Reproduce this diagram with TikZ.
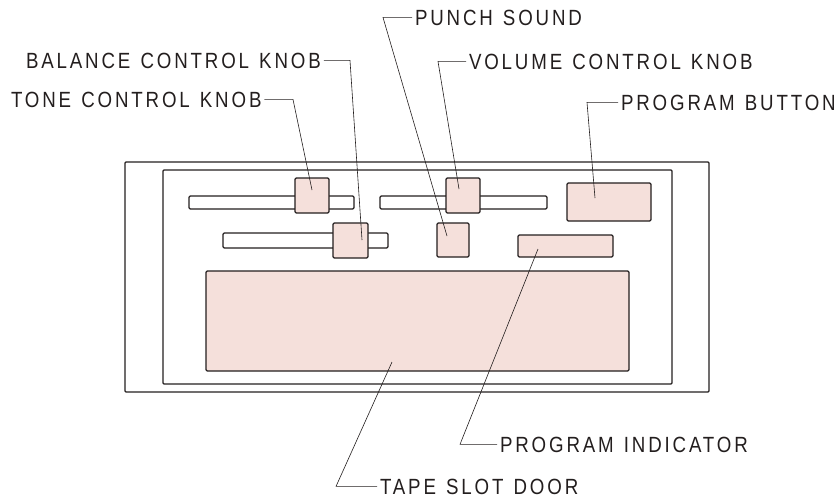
\documentclass[tikz,border=0pt]{standalone}
\usepackage{fontspec}
\newfontfamily\lblfont[FakeStretch=0.85,LetterSpace=13,WordSpace=1.25]{Liberation Sans}
\definecolor{ink}{RGB}{35,30,30}
\definecolor{pinkfill}{RGB}{245,224,219}
\begin{document}
\begin{tikzpicture}[x=1pt,y=-1pt,
  frame/.style={draw=ink,line width=1.3pt,rounded corners=1pt},
  slider/.style={draw=ink,line width=1.3pt,fill=white,rounded corners=1.2pt,inner sep=0pt,outer sep=0pt},
  knob/.style={draw=ink,line width=1.3pt,fill=pinkfill,rounded corners=1.2pt,inner sep=0pt,outer sep=0pt},
  lbl/.style={font=\lblfont\fontsize{22}{26}\selectfont,text=ink,inner sep=0pt,outer sep=3pt},
  leader/.style={draw=ink,line width=0.6pt}]
\useasboundingbox (0,0) rectangle (836,498);
% frames
\node[frame,inner sep=0pt,minimum width=584pt,minimum height=230pt] (outer) at (417,277) {};
\node[frame,inner sep=0pt,minimum width=509pt,minimum height=214pt] (inner) at (417.5,277) {};
% sliders
\node[slider,minimum width=165pt,minimum height=13pt] (slider1) at (271.5,202.5) {};
\node[slider,minimum width=165pt,minimum height=15pt] (slider2) at (305.5,240.5) {};
\node[slider,minimum width=167pt,minimum height=13pt] (slider3) at (463.5,202.5) {};
% knobs and pink parts
\node[knob,minimum width=34pt,minimum height=35pt] (tone) at (312,195.5) {};
\node[knob,minimum width=35pt,minimum height=35pt] (balance) at (350.5,240.5) {};
\node[knob,minimum width=34pt,minimum height=35pt] (volume) at (463,195.5) {};
\node[knob,minimum width=32pt,minimum height=34pt] (punch) at (453,240) {};
\node[knob,minimum width=84pt,minimum height=38pt] (progbtn) at (609,202) {};
\node[knob,minimum width=95pt,minimum height=22pt] (progind) at (565.5,246) {};
\node[knob,minimum width=423pt,minimum height=100pt] (tape) at (417.5,321) {};
% labels
\node[lbl,anchor=base west] (tonelbl) at (8,107) {TONE CONTROL KNOB};
\node[lbl,anchor=base west] (ballbl) at (23,68) {BALANCE CONTROL KNOB};
\node[lbl,anchor=base west] (punchlbl) at (412,25) {PUNCH SOUND};
\node[lbl,anchor=base west] (vollbl) at (466,69) {VOLUME CONTROL KNOB};
\node[lbl,anchor=base west] (btnlbl) at (618,110) {PROGRAM BUTTON};
\node[lbl,anchor=base west] (indlbl) at (497,452) {PROGRAM INDICATOR};
\node[lbl,anchor=base west] (tapelbl) at (377,494) {TAPE SLOT DOOR};
% leader bends and ends
\coordinate (toneB) at (293,99);   \coordinate (toneP) at (312,190);
\coordinate (balB) at (350,60);    \coordinate (balP) at (362,240);
\coordinate (punchB) at (383,18);  \coordinate (punchP) at (447,236);
\coordinate (volB) at (438,60);    \coordinate (volP) at (459,189);
\coordinate (btnB) at (587,100);   \coordinate (btnP) at (595,198);
\coordinate (indB) at (460,441);   \coordinate (indP) at (538,249);
\coordinate (tapeB) at (336,486);  \coordinate (tapeP) at (392,362);
% leaders
\draw[leader] (tonelbl.east) -- (tonelbl.east -| toneB) -- (toneP);
\draw[leader] (ballbl.east) -- (ballbl.east -| balB) -- (balP);
\draw[leader] (punchlbl.west) -- (punchlbl.west -| punchB) -- (punchP);
\draw[leader] (vollbl.west) -- (vollbl.west -| volB) -- (volP);
\draw[leader] (btnlbl.west) -- (btnlbl.west -| btnB) -- (btnP);
\draw[leader] (indlbl.west) -- (indlbl.west -| indB) -- (indP);
\draw[leader] (tapelbl.west) -- (tapelbl.west -| tapeB) -- (tapeP);
\end{tikzpicture}
\end{document}
